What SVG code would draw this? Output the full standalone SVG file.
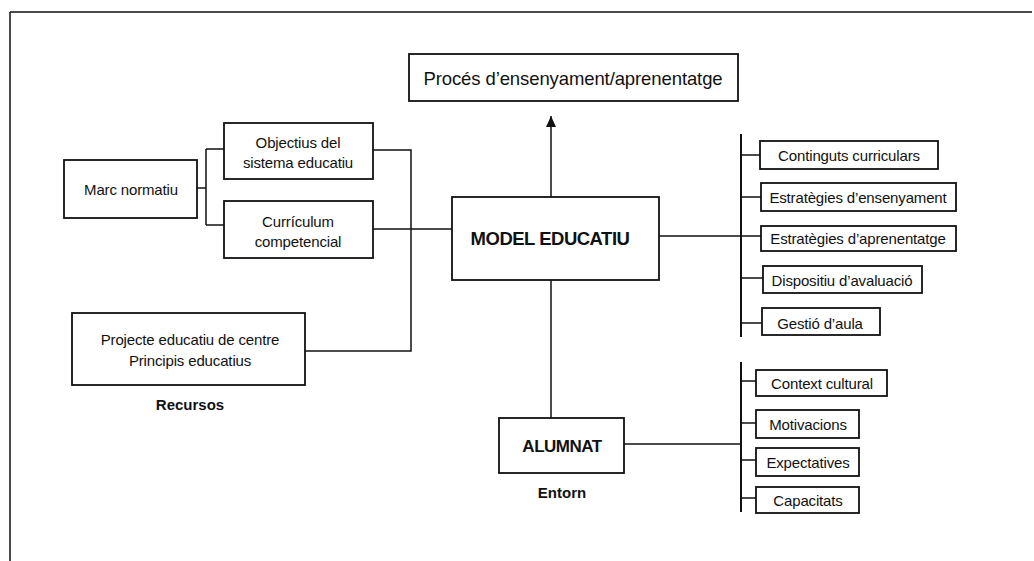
<svg xmlns="http://www.w3.org/2000/svg" width="1034" height="561" viewBox="0 0 1034 561">
<defs>
<marker id="arr" markerWidth="11" markerHeight="10" refX="11" refY="5" orient="auto" markerUnits="userSpaceOnUse" viewBox="0 0 11 10">
<path d="M0,0 L11,5 L0,10 Z" fill="#111"/>
</marker>
</defs>
<style>
text{font-family:"Liberation Sans",Arial,sans-serif;fill:#111;text-anchor:middle;dominant-baseline:central}
.b{fill:#fff;stroke:#111;stroke-width:1.8}
.s{font-size:15px;letter-spacing:-0.15px}
.bold{font-weight:bold}
.c{fill:none;stroke:#111;stroke-width:1.5}
.br{fill:none;stroke:#111;stroke-width:2}
</style>
<rect width="1034" height="561" fill="#fff"/>
<g id="frame">
<path d="M10,12 H1032 M10,12 V561" fill="none" stroke="#111" stroke-width="1.5"/>
</g>
<g id="connectors">
<path class="c" d="M197,188 H206 M206,149 V225 M206,149 H224 M206,225 H224"/>
<path class="c" d="M373,150 H411 V351 H305"/>
<path class="c" d="M373,229 H452"/>
<path class="c" d="M551,197 V116" marker-end="url(#arr)"/>
<path class="c" d="M551,280 V418"/>
<path class="c" d="M659,236 H741"/>
<path class="br" d="M741,134 V337"/>
<path class="c" d="M741,155 H760 M741,197 H761 M741,236 H761 M741,278 H763 M741,323 H762"/>
<path class="c" d="M624,444 H741"/>
<path class="br" d="M741,362 V512"/>
<path class="c" d="M741,381 H756 M741,423 H756 M741,460 H756 M741,498 H756"/>
</g>
<g id="proces"><rect class="b" x="409" y="54" width="329" height="47"/><text x="573" y="78" style="font-size:18.5px;letter-spacing:-0.1px">Procés d’ensenyament/aprenentatge</text></g>
<g id="marc"><rect class="b" x="64" y="160" width="133" height="58"/><text class="s" x="131" y="189">Marc normatiu</text></g>
<g id="objectius"><rect class="b" x="224" y="123" width="149" height="56"/><text class="s" x="298" y="142">Objectius del</text><text class="s" x="298" y="162">sistema educatiu</text></g>
<g id="curriculum"><rect class="b" x="224" y="201" width="149" height="57"/><text class="s" x="298" y="221">Currículum</text><text class="s" x="298" y="241">competencial</text></g>
<g id="projecte"><rect class="b" x="72" y="313" width="233" height="72"/><text class="s" x="190" y="339">Projecte educatiu de centre</text><text class="s" x="190" y="360">Principis educatius</text></g>
<g id="recursos"><text class="s bold" x="190" y="404" style="letter-spacing:0">Recursos</text></g>
<g id="model"><rect class="b" x="452" y="197" width="207" height="83"/><text class="bold" x="550" y="238" style="font-size:18.5px;letter-spacing:-0.5px">MODEL EDUCATIU</text></g>
<g id="alumnat"><rect class="b" x="499" y="418" width="125" height="55"/><text class="bold" x="562" y="446" style="font-size:17px;letter-spacing:-0.5px">ALUMNAT</text></g>
<g id="entorn"><text class="s bold" x="562" y="492" style="letter-spacing:0">Entorn</text></g>
<g id="continguts"><rect class="b" x="760" y="141" width="178" height="28"/><text class="s" x="849" y="155">Continguts curriculars</text></g>
<g id="ensenyament"><rect class="b" x="761" y="183" width="195" height="28"/><text class="s" x="858" y="197">Estratègies d’ensenyament</text></g>
<g id="aprenentatge"><rect class="b" x="761" y="226" width="195" height="25"/><text class="s" x="858" y="238">Estratègies d’aprenentatge</text></g>
<g id="dispositiu"><rect class="b" x="763" y="266" width="159" height="27"/><text class="s" x="842" y="280">Dispositiu d’avaluació</text></g>
<g id="gestio"><rect class="b" x="762" y="308" width="118" height="27"/><text class="s" x="820" y="323">Gestió d’aula</text></g>
<g id="context"><rect class="b" x="756" y="370" width="131" height="26"/><text class="s" x="822" y="383">Context cultural</text></g>
<g id="motivacions"><rect class="b" x="756" y="410" width="103" height="28"/><text class="s" x="808" y="424">Motivacions</text></g>
<g id="expectatives"><rect class="b" x="756" y="448" width="103" height="28"/><text class="s" x="808" y="462">Expectatives</text></g>
<g id="capacitats"><rect class="b" x="756" y="487" width="103" height="26"/><text class="s" x="808" y="500">Capacitats</text></g>
</svg>
